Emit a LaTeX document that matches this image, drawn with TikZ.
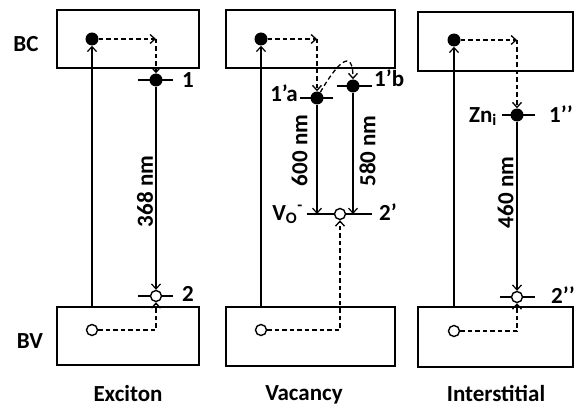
\documentclass[tikz,border=0pt]{standalone}
\usepackage{fontspec}
\setmainfont{Carlito}
\usetikzlibrary{arrows.meta,positioning,calc,backgrounds}
\tikzset{
  band/.style={draw,line width=1.8pt,inner sep=0},
  elec/.style={circle,fill,inner sep=0,minimum size=13},
  hole/.style={circle,draw,fill=white,line width=1.4pt,inner sep=0,minimum size=11},
  lvl/.style={line width=2.6pt},
  tip/.style={-{Straight Barb[length=5pt,width=9pt]}},
  exc/.style={tip,line width=1.2pt},
  rel/.style={tip,line width=1.2pt},
  hop/.style={tip,line width=1.3pt,dash pattern=on 4.5pt off 3pt},
  lbl/.style={inner sep=0},
  wl/.style={rotate=90,inner sep=0},
}

\begin{document}
\begin{tikzpicture}[x=1pt,y=-1pt,font=\fontsize{23}{26}\selectfont\bfseries]
  \useasboundingbox (0,0) rectangle (576,412);

  % --- bandes -------------------------------------------------------------
  \node[band,minimum width=142,minimum height=58] (bc1) at (128,39)    {};
  \node[band,minimum width=142,minimum height=58] (bv1) at (128,336)   {};
  \node[band,minimum width=169,minimum height=58] (bc2) at (310.5,39)  {};
  \node[band,minimum width=169,minimum height=59] (bv2) at (310.5,336.5) {};
  \node[band,minimum width=155,minimum height=59] (bc3) at (495.5,41.5) {};
  \node[band,minimum width=155,minimum height=60] (bv3) at (495.5,337) {};
  \node[lbl,anchor=base] (tbc) at (26,52)  {BC};
  \node[lbl,anchor=base] (tbv) at (30,348) {BV};

  % --- exciton ------------------------------------------------------------
  \node[elec] (e1) at (92,39)   {};
  \node[hole] (h1) at (92,330)  {};
  \node[elec] (d1) at (156,80)  {};
  \node[hole] (d2) at (156,296) {};
  \coordinate (k1) at (d1|-e1);
  \node[lbl,anchor=base west] (n1) at (182,88)  {1};
  \node[lbl,anchor=base west] (n2) at (182,301) {2};
  \node[wl] (w1) at (145,191.5) {368 nm};

  % --- lacune -------------------------------------------------------------
  \node[elec] (e2) at (261,39)  {};
  \node[hole] (h2) at (261,330) {};
  \node[elec] (a1) at (317,98)  {};
  \node[elec] (b1) at (353,86)  {};
  \node[hole] (v1) at (340,214) {};
  \coordinate (k2) at (a1|-e2);
  \node[lbl,anchor=base east] (n1a) at (298,102) {1’a};
  \node[lbl,anchor=base west] (n1b) at (374,87)  {1’b};
  \node[lbl,anchor=base east] (nvo) at (303,220) {V\textsubscript{O}\textsuperscript{-}};
  \node[lbl,anchor=base west] (n2p) at (379,220) {2’};
  \node[wl] (w2) at (299.5,150.5) {600 nm};
  \node[wl] (w3) at (367.5,151)   {580 nm};

  % --- interstitiel -------------------------------------------------------
  \node[elec] (e3) at (454,40)  {};
  \node[hole] (h3) at (454,331) {};
  \node[elec] (z1) at (517,115) {};
  \node[hole] (z2) at (517,297) {};
  \coordinate (k3) at (z1|-e3);
  \node[lbl,anchor=base east] (nzn) at (497,122) {Zn\textsubscript{i}};
  \node[lbl,anchor=base west] (n1s) at (549,122) {1’’};
  \node[lbl,anchor=base west] (n2s) at (551,303) {2’’};
  \node[wl] (w4) at (505.5,192.5) {460 nm};

  % --- titres -------------------------------------------------------------
  \node[lbl,anchor=base] (t1) at (128,401) {Exciton};
  \node[lbl,anchor=base] (t2) at (304,400) {Vacancy};
  \node[lbl,anchor=base] (t3) at (496,401) {Interstitial};

  % niveaux sous les points
  \begin{scope}[on background layer]
    \foreach \n/\l/\r in {d1/18/17,d2/18/17,a1/17/16,b1/16/19,v1/33/32,z1/15/18,z2/17/18}
      \draw[lvl] ([xshift=-\l pt]\n.center) -- ([xshift=\r pt]\n.center);
  \end{scope}

  % --- transitions --------------------------------------------------------
  \draw[exc] (e1|-bv1.north) -- (e1);
  \draw[hop] (e1) -- (k1);
  \draw[hop] (k1) -- (d1);
  \draw[rel] (d1) -- (d2);
  \draw[hop] (h1) -| (d2);

  \draw[exc] (e2|-bv2.north) -- (e2);
  \draw[hop] (e2) -- (k2);
  \draw[hop] (k2) -- (a1);
  \draw[hop] (a1) to[out=60,in=90,looseness=2.4] (b1);
  \draw[rel] (a1) -- (a1|-v1);
  \draw[rel] (b1) -- (b1|-v1);
  \draw[hop] (h2) -| (v1);

  \draw[exc] (e3|-bv3.north) -- (e3);
  \draw[hop] (e3) -- (k3);
  \draw[hop] (k3) -- (z1);
  \draw[rel] (z1) -- (z2);
  \draw[hop] (h3) -| (z2);
\end{tikzpicture}
\end{document}
